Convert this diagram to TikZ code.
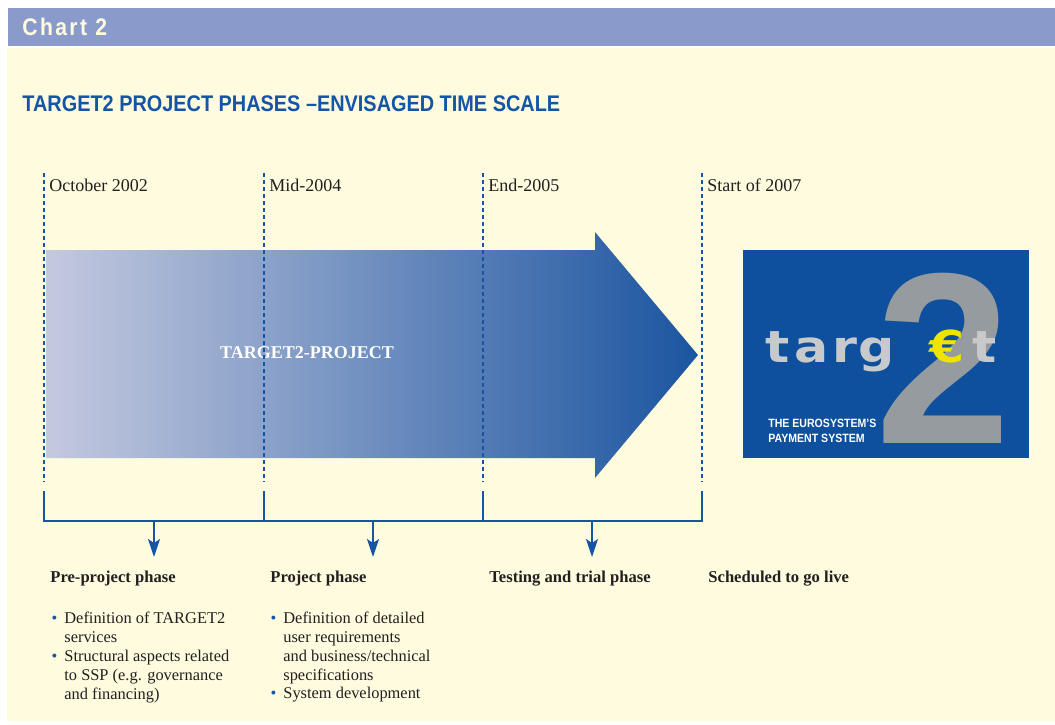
\documentclass[tikz,border=0pt]{standalone}
\usepackage{fontspec}
\setmainfont{Liberation Serif}
\setsansfont{Liberation Sans}
\newfontfamily\titlefont[FakeStretch=0.88]{Liberation Sans}
\newfontfamily\chartfont[FakeStretch=0.88,LetterSpace=10]{Liberation Sans}
\newfontfamily\logofont[FakeStretch=1.15]{DejaVu Sans}
\usetikzlibrary{arrows.meta}
\definecolor{bandblue}{RGB}{138,155,203}
\definecolor{cream}{RGB}{255,251,222}
\definecolor{chartblue}{RGB}{20,85,165}
\definecolor{darkblue}{RGB}{27,85,160}
\definecolor{lightblue}{RGB}{196,201,223}
\definecolor{logoblue}{RGB}{14,80,158}
\definecolor{twogray}{RGB}{150,155,160}
\definecolor{lettergray}{RGB}{200,201,203}
\definecolor{euroyellow}{RGB}{238,228,0}
\definecolor{textgray}{RGB}{35,31,32}
\newcommand{\blt}{\llap{\textcolor{chartblue}{\textbullet}\hspace{3.5pt}}}
\tikzset{
  datelabel/.style={anchor=base west,inner sep=0,font=\fontsize{9}{11}\selectfont,text=textgray},
  phaselabel/.style={anchor=base west,inner sep=0,font=\fontsize{8.3}{10}\selectfont\bfseries,text=textgray},
  itemtext/.style={anchor=north west,inner sep=0,align=left,font=\fontsize{8.2}{9.4}\selectfont,text=textgray},
  timeline/.style={chartblue,line width=0.55pt,dash pattern=on 2.2pt off 1.3pt},
  bracket/.style={chartblue,line width=1pt},
  logoletter/.style={anchor=base,inner sep=0,font=\logofont\bfseries\fontsize{22}{22}\selectfont,text=lettergray},
}
\begin{document}
\begin{tikzpicture}[x=0.5pt,y=-0.5pt,>={Stealth[length=9pt,width=6pt,inset=2pt]}]
\useasboundingbox (0,0) rectangle (1055,724);
% background and heading
\fill[bandblue] (8,8) rectangle (1055,46);
\fill[cream] (7,48) rectangle (1055,721);
\node[anchor=base west,inner sep=0,text=cream,font=\chartfont\fontsize{12}{14}\selectfont\bfseries] (chart) at (22,35) {Chart 2};
\node[anchor=base west,inner sep=0,text=chartblue,font=\titlefont\fontsize{11.3}{13}\selectfont\bfseries] (title) at (22,111) {TARGET2 PROJECT PHASES –ENVISAGED TIME SCALE};
% big arrow
\shade[left color=lightblue,right color=darkblue] (46,250) -- (595,250) -- (595,232) -- (698,355) -- (595,478) -- (595,458) -- (46,458) -- cycle;
\node[text=white,font=\fontsize{9}{11}\selectfont\bfseries] (project) at (307,353) {TARGET2-PROJECT};
% time marks
\foreach \x/\d [count=\i] in {44/October 2002,264/Mid-2004,483/End-2005,702/Start of 2007}{
  \coordinate (top\i) at (\x,173);
  \coordinate (bot\i) at (\x,482);
  \coordinate (tick\i) at (\x,491);
  \coordinate (low\i) at (\x,521);
  \draw[timeline] (top\i) -- (bot\i);
  \node[datelabel] (date\i) at (\x+5,191) {\d};
}
\draw[bracket] (tick1) -- (low1) -- (low4) -- (tick4);
\draw[bracket] (tick2) -- (low2);
\draw[bracket] (tick3) -- (low3);
% phases
\foreach \x/\p [count=\i] in {44/Pre-project phase,264/Project phase,483/Testing and trial phase,702/Scheduled to go live}
  \node[phaselabel] (phase\i) at (\x+6,582) {\p};
\foreach \x [count=\i] in {154,373,592}{
  \coordinate (mid\i) at (\x,521);
  \coordinate (tip\i) at (\x,557);
  \draw[bracket,->] (mid\i) -- (tip\i);
}
\node[itemtext] (item1a) at (64,612) {\blt Definition of TARGET2\\services};
\node[itemtext] (item1b) at (64,650) {\blt Structural aspects related\\to SSP (e.g. governance\\and financing)};
\node[itemtext] (item2a) at (283,612) {\blt Definition of detailed\\user requirements\\and business/technical\\specifications};
\node[itemtext] (item2b) at (283,687) {\blt System development};
% logo
\fill[logoblue] (743,250) rectangle (1029,458);
\node[anchor=base,inner sep=0,text=twogray,font=\sffamily\bfseries\fontsize{122}{122}\selectfont] (two) at (943,443) {2};
\foreach \c/\x [count=\i] in {t/778,a/812,r/845,g/877,t/985}
  \node[logoletter] (letter\i) at (\x,362) {\c};
\node[logoletter,text=euroyellow] (euro) at (947,362) {€};
\node[anchor=north west,inner sep=0,align=left,text=white,font=\titlefont\fontsize{6}{7.5}\selectfont\bfseries] (tagline) at (768,419) {THE EUROSYSTEM’S\\PAYMENT SYSTEM};
\end{tikzpicture}
\end{document}
